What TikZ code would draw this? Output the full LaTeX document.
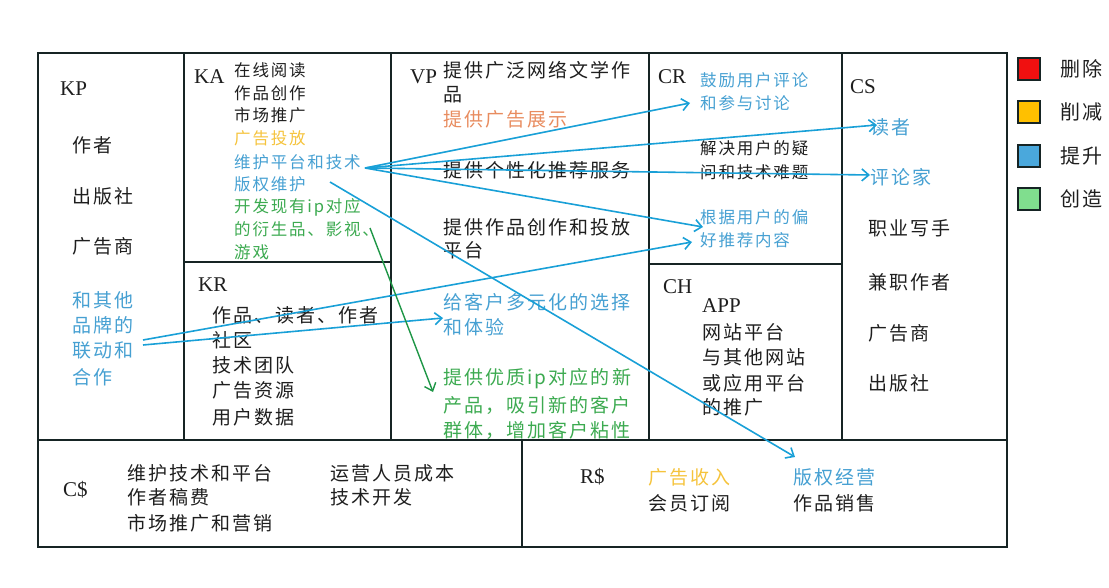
\documentclass[tikz,border=0pt]{standalone}
\usepackage{fontspec}
\setmainfont{Liberation Serif}
\newfontfamily\cjk[LetterSpace=11]{Noto Sans CJK SC}
\usetikzlibrary{arrows.meta}

\definecolor{framecol}{RGB}{22,36,36}
\definecolor{ink}{RGB}{30,30,30}
\definecolor{txtblue}{RGB}{70,160,210}
\definecolor{txtgreen}{RGB}{60,170,80}
\definecolor{txtyellow}{RGB}{245,195,60}
\definecolor{txtorange}{RGB}{232,140,95}
\definecolor{linkblue}{RGB}{25,160,215}
\definecolor{linkgreen}{RGB}{30,150,70}
\definecolor{keyred}{RGB}{240,16,16}
\definecolor{keyorange}{RGB}{255,192,0}
\definecolor{keyblue}{RGB}{74,168,220}
\definecolor{keygreen}{RGB}{128,222,142}

\newcommand\cjkbig{\cjk\fontsize{19}{19}\selectfont}
\newcommand\cjksmall{\cjk\fontsize{16.5}{16.5}\selectfont}

\tikzset{
  frame/.style={line width=2pt, draw=framecol},
  tag/.style={font=\rmfamily\fontsize{21}{21}\selectfont, anchor=west, inner sep=0pt, text=ink},
  big/.style={font=\cjkbig, anchor=west, inner sep=0pt, text=ink},
  small/.style={font=\cjksmall, anchor=west, inner sep=0pt, text=ink},
  link/.style={-{Straight Barb[length=7pt,width=12pt]}, line width=1.6pt, draw=linkblue},
  key/.style={draw=framecol, line width=1.2pt, minimum size=22pt, inner sep=0pt},
}

\begin{document}
\begin{tikzpicture}[x=1pt, y=-1pt]
  \useasboundingbox (0,0) rectangle (1109,588);

  %%% canvas frame
  \draw[frame] (38,53) rectangle (1007,547);
  \draw[frame] (38,440) -- (1007,440);
  \foreach \x in {184,391,649,842}
    \draw[frame] (\x,53) -- (\x,440);
  \draw[frame] (184,262) -- (391,262);
  \draw[frame] (649,264) -- (842,264);
  \draw[frame] (522,440) -- (522,547);

  %%% KP
  \node[tag] (kp) at (60,89) {KP};
  \foreach \y/\t [count=\i] in {145/作者, 196/出版社, 246/广告商}
    \node[big] (kp\i) at (72,\y) {\t};
  \foreach \y/\t [count=\i] in {300/和其他, 325/品牌的, 350/联动和, 377/合作}
    \node[big, text=txtblue] (kpb\i) at (72,\y) {\t};

  %%% KA
  \node[tag] (ka) at (194,77) {KA};
  \foreach \y/\t [count=\i] in {70/在线阅读, 93/作品创作, 115/市场推广}
    \node[small] (ka\i) at (234,\y) {\t};
  \node[small, text=txtyellow] (kay) at (234,138) {广告投放};
  \foreach \y/\t [count=\i] in {162/维护平台和技术, 184/版权维护}
    \node[small, text=txtblue] (kab\i) at (234,\y) {\t};
  \foreach \y/\t [count=\i] in {207/开发现有ip对应, 229/的衍生品、影视、, 252/游戏}
    \node[small, text=txtgreen] (kag\i) at (234,\y) {\t};

  %%% KR
  \node[tag] (kr) at (198,285) {KR};
  \foreach \y/\t [count=\i] in {315/作品、读者、作者, 340/社区, 365/技术团队, 390/广告资源, 417/用户数据}
    \node[big] (kr\i) at (212,\y) {\t};

  %%% VP
  \node[tag] (vp) at (410,77) {VP};
  \foreach \y/\t [count=\i] in {70/提供广泛网络文学作, 95/品, 170/提供个性化推荐服务, 227/提供作品创作和投放, 250/平台}
    \node[big] (vp\i) at (443,\y) {\t};
  \node[big, text=txtorange] (vpo) at (443,119) {提供广告展示};
  \foreach \y/\t [count=\i] in {302/给客户多元化的选择, 327/和体验}
    \node[big, text=txtblue] (vpb\i) at (443,\y) {\t};
  \foreach \y/\t [count=\i] in {379/提供优质ip对应的新, 405/产品，吸引新的客户, 430/群体，增加客户粘性}
    \node[big, text=txtgreen] (vpg\i) at (443,\y) {\t};

  %%% CR
  \node[tag] (cr) at (658,77) {CR};
  \foreach \y/\t [count=\i] in {80/鼓励用户评论, 103/和参与讨论, 217/根据用户的偏, 240/好推荐内容}
    \node[small, text=txtblue] (crb\i) at (700,\y) {\t};
  \foreach \y/\t [count=\i] in {148/解决用户的疑, 172/问和技术难题}
    \node[small] (cr\i) at (700,\y) {\t};

  %%% CH
  \node[tag] (ch) at (663,287) {CH};
  \node[tag] (app) at (702,306) {APP};
  \foreach \y/\t [count=\i] in {332/网站平台, 357/与其他网站, 383/或应用平台, 407/的推广}
    \node[big] (ch\i) at (702,\y) {\t};

  %%% CS
  \node[tag] (cs) at (850,87) {CS};
  \foreach \y/\t [count=\i] in {127/读者, 177/评论家}
    \node[big, text=txtblue] (csb\i) at (870,\y) {\t};
  \foreach \y/\t [count=\i] in {228/职业写手, 282/兼职作者, 333/广告商, 383/出版社}
    \node[big] (cs\i) at (868,\y) {\t};

  %%% C$
  \node[tag] (cost) at (63,490) {C\$};
  \foreach \y/\t [count=\i] in {473/维护技术和平台, 497/作者稿费, 523/市场推广和营销}
    \node[big] (cost\i) at (127,\y) {\t};
  \foreach \y/\t [count=\i] in {473/运营人员成本, 497/技术开发}
    \node[big] (costr\i) at (330,\y) {\t};

  %%% R$
  \node[tag] (rev) at (580,477) {R\$};
  \node[big, text=txtyellow] (rev1) at (648,477) {广告收入};
  \node[big] (rev2) at (648,503) {会员订阅};
  \node[big, text=txtblue] (rev3) at (793,477) {版权经营};
  \node[big] (rev4) at (793,503) {作品销售};

  %%% legend
  \foreach \c/\y/\t [count=\i] in {keyred/69/删除, keyorange/112/削减, keyblue/156/提升, keygreen/199/创造}{
    \node[key, fill=\c] (key\i) at (1029,\y) {};
    \node[big, font=\cjk\fontsize{20}{20}\selectfont] (keyt\i) at (1060,\y) {\t};
  }

  %%% links
  \coordinate (hub) at (365,168);
  \coordinate (crIn) at (690,103);
  \coordinate (csIn) at (877,125);
  \coordinate (criticIn) at (870,175);
  \coordinate (prefIn) at (703,227);
  \coordinate (rightsOut) at (330,182);
  \coordinate (rightsIn) at (795,457);
  \coordinate (brandA) at (143,340);
  \coordinate (brandB) at (143,345);
  \coordinate (prefIn2) at (692,242);
  \coordinate (choiceIn) at (443,318);
  \coordinate (deriveOut) at (370,228);
  \coordinate (deriveIn) at (433,392);

  \draw[link] (hub) -- (crIn);
  \draw[link] (hub) -- (csIn);
  \draw[link] (hub) -- (criticIn);
  \draw[link] (hub) -- (prefIn);
  \draw[link] (rightsOut) -- (rightsIn);
  \draw[link] (brandA) -- (prefIn2);
  \draw[link] (brandB) -- (choiceIn);
  \draw[link, draw=linkgreen, line width=1.4pt] (deriveOut) -- (deriveIn);

\end{tikzpicture}
\end{document}
